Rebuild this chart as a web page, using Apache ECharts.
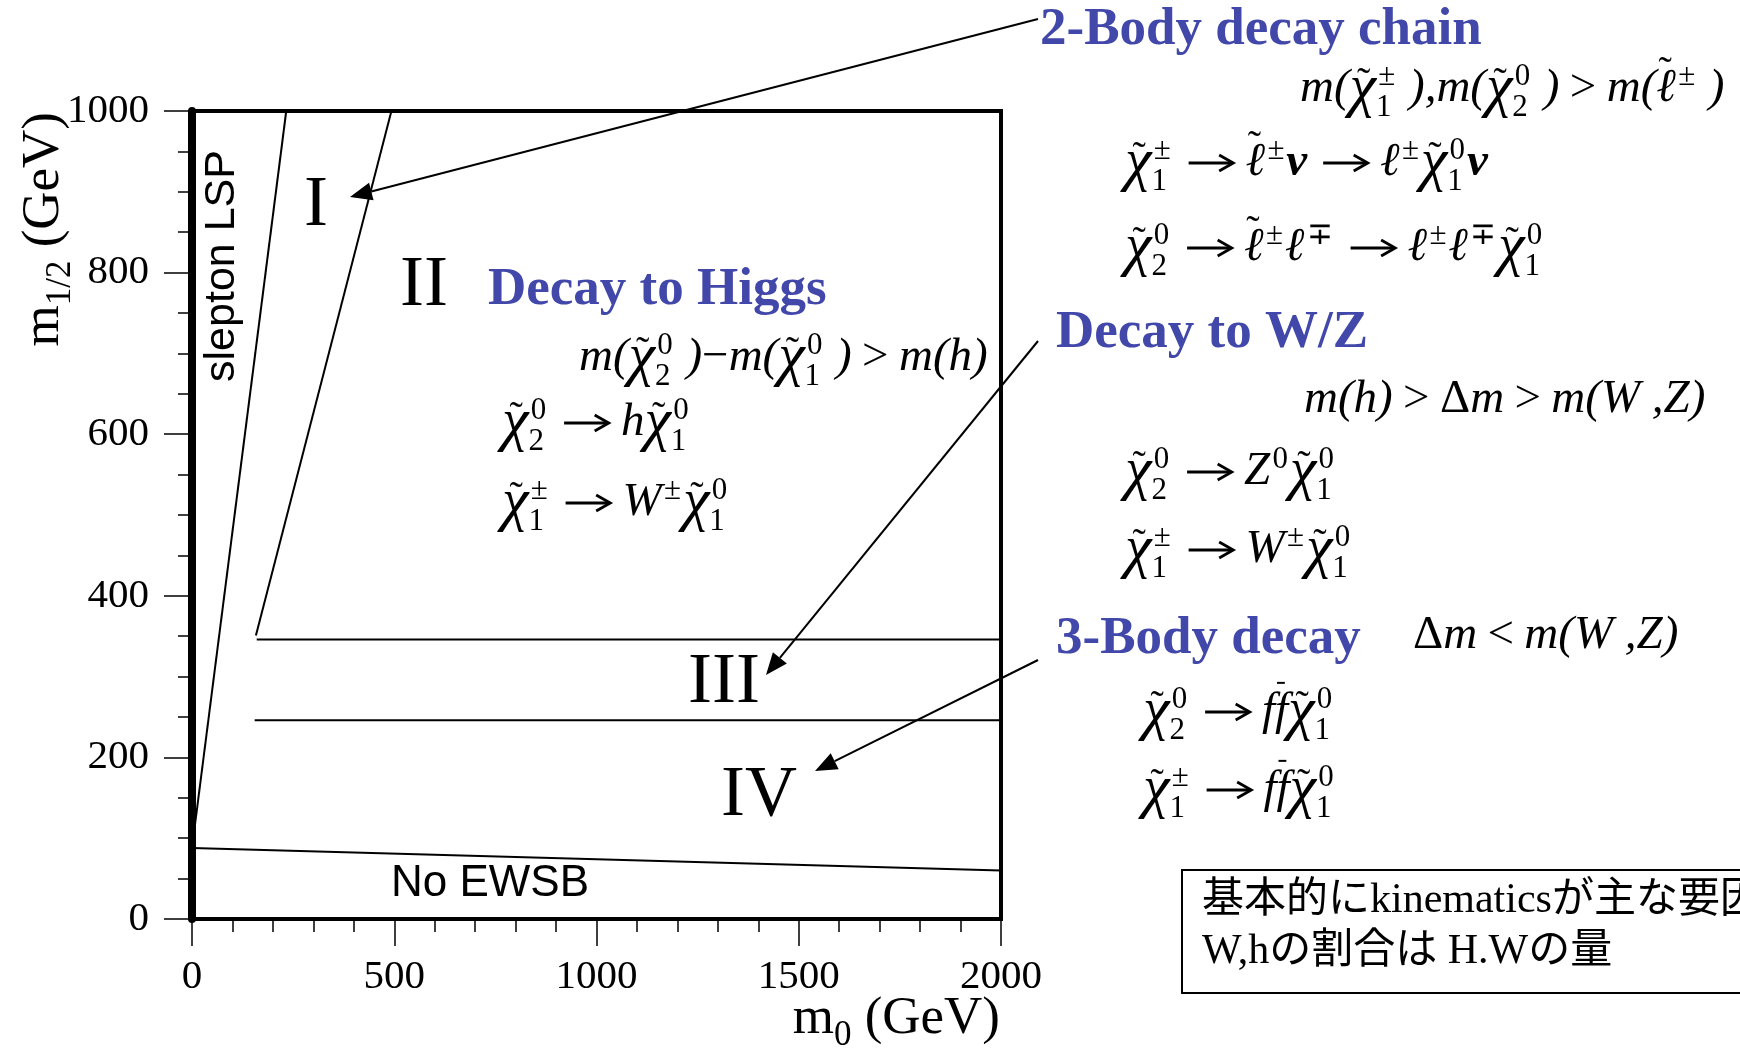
<!DOCTYPE html>
<html><head><meta charset="utf-8">
<script src="https://cdn.jsdelivr.net/npm/echarts@6/dist/echarts.min.js"></script>
<style>html,body{margin:0;padding:0;background:#fff}#c{width:1740px;height:1053px}</style>
</head><body><div id="c"></div>
<script>
// ---------- data (m0, m1/2 in GeV) ----------
const sleptonLSPBoundary = [[0, 88], [233, 1000]];
const region1Boundary    = [[158, 351], [493, 1000]];
const region3Boundary    = [[160, 346], [2000, 346]];
const region4Boundary    = [[155, 246], [2000, 246]];
const noEWSBBoundary     = [[0, 88], [2000, 60]];
const xAxisRange = [0, 2000];   // tick labels 0,500,...,2000
const yAxisRange = [0, 1000];   // tick labels 0,200,...,1000
const xTickStep = 500, yTickStep = 200;
const regionNames = ['I', 'II', 'III', 'IV'];

// ---------- helpers ----------
const SERIF = '"Liberation Serif", "Times New Roman", serif';
const SANS = '"Liberation Sans", Arial, sans-serif';
const CJK = '"Liberation Serif", "Noto Sans CJK JP", serif';
const BLUE = '#4248aa';
const mctx = document.createElement('canvas').getContext('2d');
function fontStr(style, weight, size, fam) { return `${style} ${weight} ${size}px ${fam}`; }
function measure(t, size, style, fam, weight) {
  mctx.font = fontStr(style || 'normal', weight || 'normal', size, fam || SERIF);
  return mctx.measureText(t).width;
}
function txt(t, x, y, size, style, o) {
  o = o || {};
  const align = o.align || 'left';
  return { type: 'text', x: x, y: y, silent: true, rotation: o.rot || 0,
    style: { text: t, x: 0, y: 0, font: fontStr(style || 'normal', o.weight || 'normal', size, o.fam || SERIF),
      fill: o.fill || '#000', align: align, textAlign: align, verticalAlign: 'middle', textVerticalAlign: 'middle' } };
}
const T = t => ({ t });
const U = t => ({ t, up: true });
const G = g => ({ g });
const AR = { arr: true };
const CHI = (sub, sup) => ({ t: 'χ', cs: 1.28, ti: 1, sub, sup });
const ELL = (sup, tilde) => ({ t: 'ℓ', ti: tilde ? 2 : 0, sup });
const NU = { t: 'ν', bold: true };

function buildFormula(tokens, F) {
  const els = []; let x = 0; const S = Math.round(F * 0.67);
  tokens.forEach(tk => {
    if (tk.g !== undefined) { x += tk.g * F; return; }
    if (tk.arr) {
      const a = x + 0.34 * F, b = a + 0.95 * F, lw = Math.max(2, F * 0.06);
      els.push({ type: 'line', silent: true, shape: { x1: a, y1: 0, x2: b - 2, y2: 0 }, style: { stroke: '#000', lineWidth: lw } });
      els.push({ type: 'polyline', silent: true, shape: { points: [[b - 0.3 * F, -0.17 * F], [b, 0], [b - 0.3 * F, 0.17 * F]] },
        style: { stroke: '#000', lineWidth: lw, fill: null, lineJoin: 'miter' } });
      x += 1.55 * F; return;
    }
    const st = tk.up ? 'normal' : 'italic';
    const wt = tk.bold ? 'bold' : 'normal';
    const size = Math.round(F * (tk.cs || 1));
    mctx.font = fontStr(st, wt, size, SERIF);
    const w = mctx.measureText(tk.t).width;
    els.push(txt(tk.t, x, 0, size, st, { weight: wt }));
    if (tk.ti) {
      const hi = tk.ti === 2;
      els.push(txt('˜', x + w * 0.5 + F * (hi ? -0.02 : 0.02), hi ? -0.32 * F : -0.1 * F, Math.round(F * 0.85), 'normal', { align: 'center' }));
    }
    if (tk.bar) {
      els.push({ type: 'line', silent: true, shape: { x1: x + w * 0.15, y1: -0.62 * F, x2: x + w * 0.75, y2: -0.62 * F },
        style: { stroke: '#000', lineWidth: 2 } });
    }
    let sw = 0;
    if (tk.sup) { const d = 0.05 * F; els.push(txt(tk.sup, x + w + d, -0.26 * F, S, 'normal')); sw = Math.max(sw, measure(tk.sup, S) + d); }
    if (tk.sub) { const d = 0.0; els.push(txt(tk.sub, x + w + d, 0.4 * F, S, 'normal')); sw = Math.max(sw, measure(tk.sub, S) + d); }
    x += w + sw + (tk.sup || tk.sub ? 0.04 * F : 0);
  });
  return { els, width: x };
}
function placeFormula(tokens, x, y, F) {
  const f = buildFormula(tokens, F);
  return { type: 'group', x: x, y: y, children: f.els };
}
function arrow(x1, y1, x2, y2) {
  const L = 22, H = 9;
  const dx = x2 - x1, dy = y2 - y1, len = Math.hypot(dx, dy), ux = dx / len, uy = dy / len;
  const bx = x2 - ux * L, by = y2 - uy * L;
  return [
    { type: 'line', silent: true, shape: { x1, y1, x2: bx, y2: by }, style: { stroke: '#000', lineWidth: 2 } },
    { type: 'polygon', silent: true, shape: { points: [[x2, y2], [bx - uy * H, by + ux * H], [bx + uy * H, by - ux * H]] }, style: { fill: '#000' } }
  ];
}

// ---------- formulas ----------
const FF = 47, rg = G(0.22);
const formulas = [
  [[T('m('), CHI('1', '±'), T(' ),'), T('m('), CHI('2', '0'), T(' )'), rg, U('>'), rg, T('m('), ELL('±', true), T(' )')], 1300, 89],
  [[CHI('1', '±'), AR, ELL('±', true), NU, AR, ELL('±'), CHI('1', '0'), NU], 1125, 163],
  [[CHI('2', '0'), AR, ELL('±', true), ELL('∓'), AR, ELL('±'), ELL('∓'), CHI('1', '0')], 1125, 248],
  [[T('m(h)'), rg, U('>'), rg, U('Δ'), T('m'), rg, U('>'), rg, T('m(W'), T(' ,'), T('Z)')], 1304, 400],
  [[CHI('2', '0'), AR, { t: 'Z', sup: '0' }, CHI('1', '0')], 1125, 472],
  [[CHI('1', '±'), AR, { t: 'W', sup: '±' }, CHI('1', '0')], 1125, 550],
  [[U('Δ'), T('m'), rg, U('<'), rg, T('m(W'), T(' ,'), T('Z)')], 1413, 636],
  [[CHI('2', '0'), AR, T('f'), { t: 'f', bar: true }, CHI('1', '0')], 1143, 712],
  [[CHI('1', '±'), AR, T('f'), { t: 'f', bar: true }, CHI('1', '0')], 1143, 790],
  [[T('m('), CHI('2', '0'), T(' )'), U('−'), T('m('), CHI('1', '0'), T(' )'), rg, U('>'), rg, T('m(h)')], 579, 358],
  [[CHI('2', '0'), AR, T('h'), CHI('1', '0')], 502, 423],
  [[CHI('1', '±'), AR, { t: 'W', sup: '±' }, CHI('1', '0')], 502, 503]
];

const graphics = [];
formulas.forEach(f => graphics.push(placeFormula(f[0], f[1], f[2], FF)));

// axis titles (upright serif with subscripts)
function title(main, sub, rest, F) {
  const els = []; let x = 0;
  els.push(txt(main, 0, 0, F, 'normal')); x += measure(main, F);
  const S = Math.round(F * 0.66);
  els.push(txt(sub, x, 0.32 * F, S, 'normal')); x += measure(sub, S);
  els.push(txt(rest, x, 0, F, 'normal')); x += measure(rest, F);
  return { els, w: x };
}
const TF = 53;
const xt = title('m', '0', ' (GeV)', TF);
graphics.push({ type: 'group', x: 1000 - xt.w, y: 1019, children: xt.els });
const yt = title('m', '1/2', ' (GeV)', TF);
graphics.push({ type: 'group', x: 44, y: 112 + yt.w, rotation: Math.PI / 2, children: yt.els });

// region labels
const regionPos = [[316, 206], [424, 286], [724, 683], [759, 796]];
regionNames.forEach((n, i) => graphics.push(txt(n, regionPos[i][0], regionPos[i][1], 72, 'normal', { align: 'center' })));
// other in-plot labels
graphics.push(txt('slepton LSP', 222, 266, 43, 'normal', { align: 'center', fam: SANS, rot: Math.PI / 2 }));
graphics.push(txt('No EWSB', 490, 884, 44, 'normal', { align: 'center', fam: SANS }));
// blue headings
graphics.push(txt('2-Body decay chain', 1040, 30, 53, 'normal', { weight: 'bold', fill: BLUE }));
graphics.push(txt('Decay to Higgs', 488, 290, 53, 'normal', { weight: 'bold', fill: BLUE }));
graphics.push(txt('Decay to W/Z', 1056, 333, 53, 'normal', { weight: 'bold', fill: BLUE }));
graphics.push(txt('3-Body decay', 1056, 639, 53, 'normal', { weight: 'bold', fill: BLUE }));
// pointer arrows
graphics.push(...arrow(1038, 19, 350, 197));
graphics.push(...arrow(1038, 341, 766, 675));
graphics.push(...arrow(1038, 660, 815, 771));
// note box
graphics.push({ type: 'rect', silent: true, shape: { x: 1182, y: 870, width: 700, height: 123 }, style: { fill: '#fff', stroke: '#000', lineWidth: 2 } });
graphics.push(txt('基本的にkinematicsが主な要因', 1202, 901, 42, 'normal', { fam: CJK }));
graphics.push(txt('W,hの割合は H.Wの量', 1202, 952, 42, 'normal', { fam: CJK }));

// ---------- chart ----------
const chart = echarts.init(document.getElementById('c'), null, { renderer: 'canvas' });
const lineSeries = (name, data) => ({ name, type: 'line', data, showSymbol: false, symbol: 'none', silent: true,
  lineStyle: { color: '#000', width: 2 }, z: 3, animation: false });
const tickStyle = { color: '#000', width: 1.5 };
const labelStyle = (margin) => ({ margin, fontSize: 41, fontFamily: 'Liberation Serif', color: '#000',
  showMinLabel: true, showMaxLabel: true, hideOverlap: false, formatter: v => String(v) });
chart.setOption({
  animation: false,
  backgroundColor: '#fff',
  grid: { left: 192, top: 111, width: 809, height: 808, show: true, borderColor: '#000', borderWidth: 4, backgroundColor: 'transparent', containLabel: false, outerBoundsMode: 'none' },
  xAxis: { type: 'value', min: xAxisRange[0], max: xAxisRange[1], interval: xTickStep,
    axisLine: { show: true, lineStyle: { color: '#000', width: 4 } },
    axisTick: { show: true, inside: false, length: 27, lineStyle: tickStyle },
    minorTick: { show: true, splitNumber: 5, length: 13, lineStyle: tickStyle },
    splitLine: { show: false }, minorSplitLine: { show: false },
    axisLabel: labelStyle(38) },
  yAxis: { type: 'value', min: yAxisRange[0], max: yAxisRange[1], interval: yTickStep,
    axisLine: { show: true, lineStyle: { color: '#000', width: 8 } },
    axisTick: { show: true, inside: false, length: 28, lineStyle: tickStyle },
    minorTick: { show: true, splitNumber: 4, length: 14, lineStyle: tickStyle },
    splitLine: { show: false }, minorSplitLine: { show: false },
    axisLabel: labelStyle(43) },
  series: [
    lineSeries('slepton LSP', sleptonLSPBoundary),
    lineSeries('I/II', region1Boundary),
    lineSeries('II/III', region3Boundary),
    lineSeries('III/IV', region4Boundary),
    lineSeries('No EWSB', noEWSBBoundary)
  ],
  graphic: { elements: graphics }
});
</script></body></html>
